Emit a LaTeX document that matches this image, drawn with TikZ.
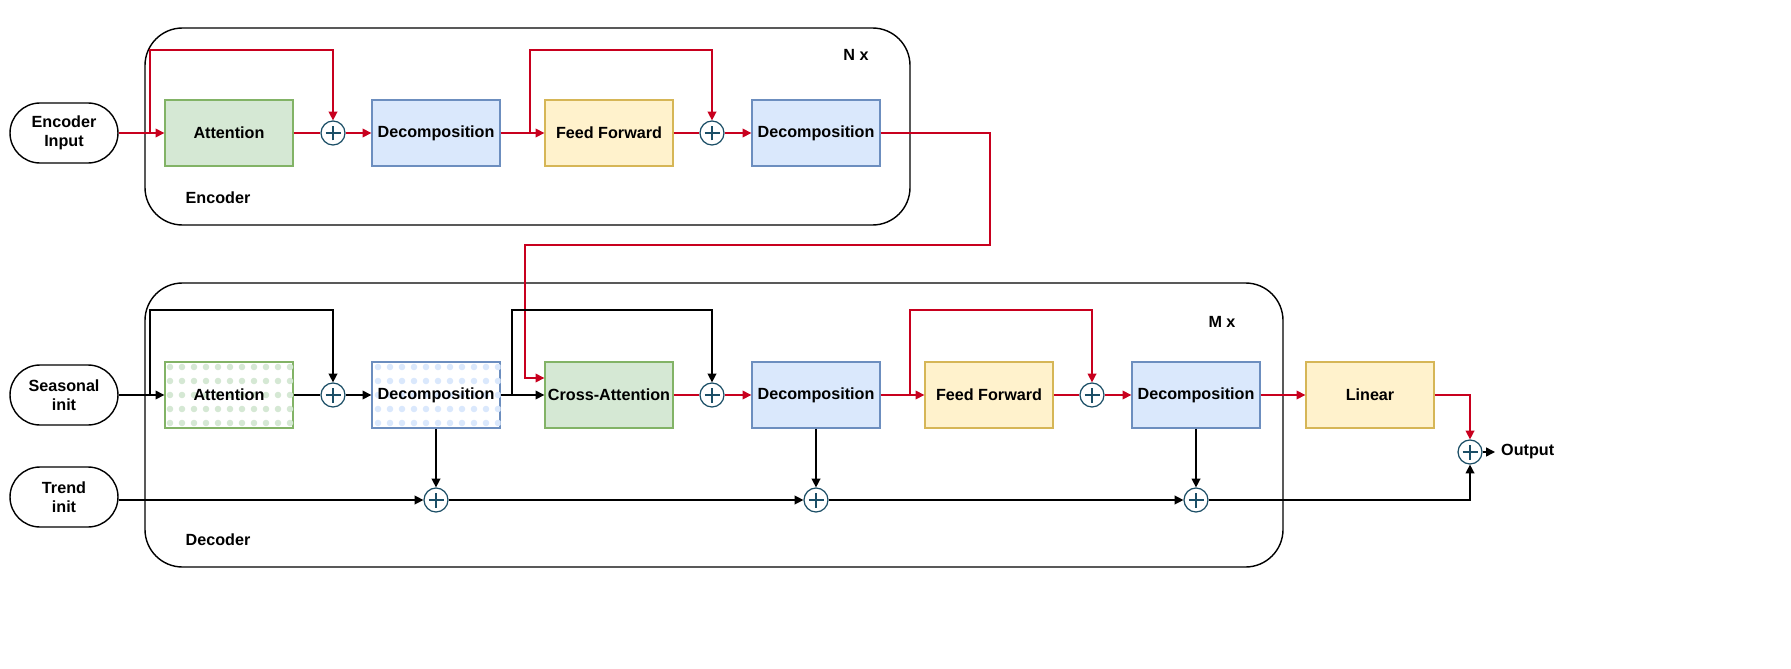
\documentclass[tikz,border=0pt]{standalone}
\usepackage{fontspec}
\setmainfont{Liberation Sans}
\usetikzlibrary{arrows.meta}
\definecolor{gf}{HTML}{D5E8D4}\definecolor{gs}{HTML}{82B366}
\definecolor{bf}{HTML}{DAE8FC}\definecolor{bs}{HTML}{6C8EBF}
\definecolor{yf}{HTML}{FFF2CC}\definecolor{ys}{HTML}{D6B656}
\definecolor{rl}{HTML}{C8001E}\definecolor{pc}{HTML}{1B4E66}
\begin{document}
\begin{tikzpicture}[x=0.02cm,y=-0.02cm,
 txt/.style={font=\fontsize{9.2}{10.5}\selectfont\bfseries},
 box/.style={txt,draw,line width=0.8pt,minimum width=2.56cm,minimum height=1.32cm,inner sep=0},
 att/.style={box,fill=gf,draw=gs}, dec/.style={box,fill=bf,draw=bs}, ff/.style={box,fill=yf,draw=ys},
 pill/.style={txt,draw,line width=0.8pt,rounded corners=0.6cm,minimum width=2.16cm,minimum height=1.2cm,align=center,fill=white},
 cont/.style={draw,line width=0.8pt,rounded corners=0.75cm},
 pl/.style={circle,draw=pc,line width=0.7pt,minimum size=0.48cm,inner sep=0,fill=white,
   path picture={\draw[pc,line width=0.7pt] ([xshift=-0.15cm]path picture bounding box.center)--([xshift=0.15cm]path picture bounding box.center) ([yshift=-0.15cm]path picture bounding box.center)--([yshift=0.15cm]path picture bounding box.center);}},
 ar/.style={line width=0.8pt,-{Triangle[length=5pt,width=5pt]}},
 rd/.style={ar,draw=rl}, bk/.style={ar,draw=black}]
\useasboundingbox (0,0) rectangle (1791,669);
% containers
\draw[cont] (145,28) rectangle (910,225);
\draw[cont] (145,283) rectangle (1283,567);
\node[txt] (nx) at (856,55) {N x};
\node[txt] (enc) at (218,198) {Encoder};
\node[txt] (mx) at (1222,322) {M x};
\node[txt] (decl) at (218,540) {Decoder};
% encoder
\node[pill] (ei) at (64,133) {Encoder\\Input};
\node[att] (a1) at (229,133) {Attention};
\node[pl] (p1) at (333,133) {};
\node[dec] (d1) at (436,133) {Decomposition};
\node[ff] (f1) at (609,133) {Feed Forward};
\node[pl] (p2) at (712,133) {};
\node[dec] (d2) at (816,133) {Decomposition};
\draw[rd] (ei) -- (a1);
\draw[rd] (150,133) -- (150,50) -| (p1);
\draw[line width=0.8pt,draw=rl] (a1) -- (p1);
\draw[rd] (p1) -- (d1);
\draw[rd] (d1) -- (f1);
\draw[rd] (530,133) -- (530,50) -| (p2);
\draw[line width=0.8pt,draw=rl] (f1) -- (p2);
\draw[rd] (p2) -- (d2);
% decoder
\node[pill] (si) at (64,395) {Seasonal\\init};
\node[pill] (ti) at (64,497) {Trend\\init};
\node[box,draw=gs] (a2) at (229,395) {};
\begin{scope}
\clip (a2.south west) rectangle (a2.north east);
\foreach \i in {0,...,10} \foreach \j in {0,...,4} \fill[gf] (170+\i*12,367+\j*14) circle (3.3);
\end{scope}
\node[txt] at (a2) {Attention};
\node[pl] (p3) at (333,395) {};
\node[box,draw=bs] (d3) at (436,395) {};
\begin{scope}
\clip (d3.south west) rectangle (d3.north east);
\foreach \i in {0,...,10} \foreach \j in {0,...,4} \fill[bf] (378+\i*12,367+\j*14) circle (3.3);
\end{scope}
\node[txt] at (d3) {Decomposition};
\node[att] (ca) at (609,395) {Cross-Attention};
\node[pl] (p4) at (712,395) {};
\node[dec] (d4) at (816,395) {Decomposition};
\node[ff] (f2) at (989,395) {Feed Forward};
\node[pl] (p5) at (1092,395) {};
\node[dec] (d5) at (1196,395) {Decomposition};
\node[ff] (li) at (1370,395) {Linear};
\node[pl] (po) at (1470,452) {};
\node[txt,anchor=west] (out) at (1495,452) {Output};
\node[pl] (t1) at (436,500) {};
\node[pl] (t2) at (816,500) {};
\node[pl] (t3) at (1196,500) {};
% encoder to cross-attention
\draw[rd] (d2.east) -- (990,133) -- (990,245) -- (525,245) -- (525,378) -- (ca.west |- 0,378);
% decoder arrows
\draw[bk] (si) -- (a2);
\draw[bk] (150,395) -- (150,310) -| (p3);
\draw[line width=0.8pt] (a2) -- (p3);
\draw[bk] (p3) -- (d3);
\draw[bk] (d3) -- (ca);
\draw[bk] (512,395) -- (512,310) -| (p4);
\draw[line width=0.8pt,draw=rl] (ca) -- (p4);
\draw[rd] (p4) -- (d4);
\draw[rd] (d4) -- (f2);
\draw[rd] (910,395) -- (910,310) -| (p5);
\draw[line width=0.8pt,draw=rl] (f2) -- (p5);
\draw[rd] (p5) -- (d5);
\draw[rd] (d5) -- (li);
\draw[rd] (li.east) -| (po);
\draw[bk] (po) -- (out);
% trend
\draw[bk] (d3) -- (t1);
\draw[bk] (d4) -- (t2);
\draw[bk] (d5) -- (t3);
\draw[bk] (ti.east |- t1) -- (t1);
\draw[bk] (t1) -- (t2);
\draw[bk] (t2) -- (t3);
\draw[bk] (t3) -| (po);
\end{tikzpicture}
\end{document}
